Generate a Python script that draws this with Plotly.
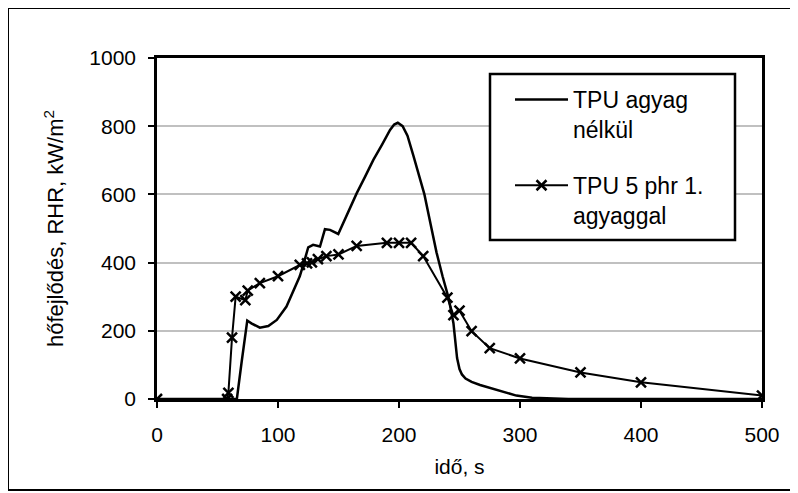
import plotly.graph_objects as go

# Series 1: TPU agyag nélkül (solid line, no markers)
t1 = [0, 66, 70, 74.6, 78, 85, 92, 99, 107, 112, 118, 121, 125, 129, 134.7, 138.8, 143,
      149.8, 157, 165, 172, 178.8, 186, 192.6, 196, 199, 203, 207, 212, 216, 221, 226,
      231, 236, 241, 245, 246.5, 248, 250, 252, 255, 260, 267, 275, 284, 297, 310, 325, 340, 500]
v1 = [0, 0, 110, 230, 222, 209, 214, 232, 271, 310, 360, 395, 445, 452, 447, 498, 496,
      484, 540, 603, 652, 701, 746, 789, 805, 810, 800, 772, 712, 665, 600, 515,
      430, 360, 296, 222, 170, 120, 88, 72, 60, 50, 41, 33, 25, 10, 4, 1, 0, 0]

# Series 2: TPU 5 phr 1. agyaggal (line with x markers)
t2 = [0, 58, 59, 62, 65, 73, 75, 85, 100, 118, 124, 128, 133, 140, 150, 165, 190, 200,
      210, 220, 240, 245, 250, 260, 275, 300, 350, 400, 500]
v2 = [0, 0, 18, 180, 300, 290, 318, 340, 360, 393, 398, 401, 410, 419, 424, 449, 458, 458,
      458, 419, 297, 246, 259, 199, 149, 119, 78, 49, 10]

name1 = "TPU agyag<br>nélkül"
name2 = "TPU 5 phr 1.<br>agyaggal"

x_ticks = [0, 100, 200, 300, 400, 500]
y_ticks = [0, 200, 400, 600, 800, 1000]

FONT = "Liberation Sans, Arial, sans-serif"

fig = go.Figure()
fig.add_trace(go.Scatter(x=t1, y=v1, mode="lines", name=name1, legendgroup="a",
                         line=dict(color="black", width=2.5)))
fig.add_trace(go.Scatter(x=t2, y=v2, mode="lines+markers", name=name2, legendgroup="b",
                         line=dict(color="black", width=2),
                         marker=dict(symbol="x-thin", size=10, color="black",
                                     line=dict(color="black", width=2.5))))

# page has an 8px body margin; plot area in page px: x 157..762, y 58..399
def px_to_paper_x(px):
    return (px - 157) / 605.0

def px_to_paper_y(py):
    return (399 - py) / 341.0

shapes = [
    dict(type="rect", xref="paper", yref="paper",
         x0=px_to_paper_x(8), x1=px_to_paper_x(805),
         y0=px_to_paper_y(490), y1=px_to_paper_y(8),
         line=dict(color="black", width=2), layer="below"),
    dict(type="rect", xref="paper", yref="paper",
         x0=px_to_paper_x(490), x1=px_to_paper_x(735),
         y0=px_to_paper_y(240), y1=px_to_paper_y(74),
         line=dict(color="black", width=2.5), fillcolor="white", layer="above"),
]

fig.update_layout(
    width=790, height=485,
    margin=dict(l=149, r=36, t=50, b=94),
    paper_bgcolor="white", plot_bgcolor="white",
    font=dict(family=FONT, size=21, color="black"),
    shapes=shapes,
    showlegend=True,
    legend=dict(x=px_to_paper_x(510), y=px_to_paper_y(78), xanchor="left", yanchor="top",
                bgcolor="rgba(0,0,0,0)", borderwidth=0,
                font=dict(family=FONT, size=23, color="black"),
                itemwidth=53, valign="top", tracegroupgap=23, traceorder="grouped"),
    xaxis=dict(range=[0, 500], tickvals=x_ticks, ticktext=[str(v) for v in x_ticks],
               showgrid=False, zeroline=False,
               showline=True, linecolor="black", linewidth=2.5, mirror=True,
               ticks="outside", ticklen=6, tickwidth=2, tickcolor="black",
               ticklabelstandoff=9,
               title=dict(text="idő, s", font=dict(size=21), standoff=15)),
    yaxis=dict(range=[0, 1000], tickvals=y_ticks, ticktext=[str(v) for v in y_ticks],
               showgrid=True, gridcolor="#c0c0c0", gridwidth=2, zeroline=False,
               showline=True, linecolor="black", linewidth=2.5, mirror=True,
               ticks="outside", ticklen=6, tickwidth=2, tickcolor="black",
               ticklabelstandoff=8,
               title=dict(text="hőfejlődés, RHR, kW/m<sup>2</sup>", font=dict(size=22), standoff=20)),
)

fig.write_html("out.html")
